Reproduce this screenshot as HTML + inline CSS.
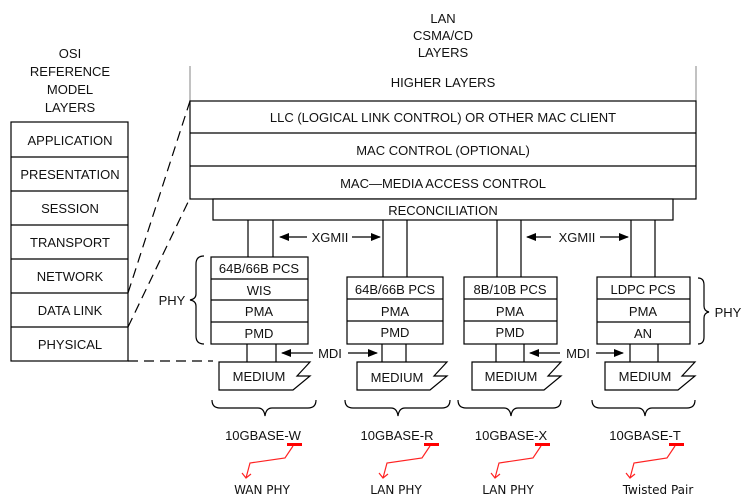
<!DOCTYPE html>
<html><head><meta charset="utf-8"><style>
html,body{margin:0;padding:0;background:#fff;}
svg{display:block;}
text{font-family:"Liberation Sans",Arial,sans-serif;font-size:13px;fill:#111;}
.b{fill:#fff;stroke:#000;stroke-width:1.2;}
.l{stroke:#000;stroke-width:1.2;fill:none;}
.d{stroke:#000;stroke-width:1.2;fill:none;stroke-dasharray:10,6;}
.r{stroke:#f22;stroke-width:1.2;fill:none;}
.v{font-family:"DejaVu Sans",sans-serif;font-size:12px;}
</style></head><body>
<svg width="748" height="500" viewBox="0 0 748 500" xmlns="http://www.w3.org/2000/svg">
<defs><marker id="a" markerWidth="10" markerHeight="8" refX="9" refY="4" orient="auto" markerUnits="userSpaceOnUse"><path d="M0,0 L10,4 L0,8 z" fill="#000"/></marker></defs>
<g text-anchor="middle">
<text x="443" y="23">LAN</text><text x="443" y="40">CSMA/CD</text><text x="443" y="57">LAYERS</text>
<text x="70" y="58">OSI</text><text x="70" y="76">REFERENCE</text><text x="70" y="94">MODEL</text><text x="70" y="112">LAYERS</text>
</g>
<!-- OSI -->
<rect class="b" x="11" y="122" width="117" height="239"/>
<g class="l"><line x1="11" y1="157" x2="128" y2="157"/><line x1="11" y1="191" x2="128" y2="191"/><line x1="11" y1="225" x2="128" y2="225"/><line x1="11" y1="259" x2="128" y2="259"/><line x1="11" y1="293" x2="128" y2="293"/><line x1="11" y1="327" x2="128" y2="327"/></g>
<g text-anchor="middle">
<text x="70" y="145">APPLICATION</text><text x="70" y="179">PRESENTATION</text><text x="70" y="213">SESSION</text><text x="70" y="247">TRANSPORT</text><text x="70" y="281">NETWORK</text><text x="70" y="315">DATA LINK</text><text x="70" y="349">PHYSICAL</text>
</g>
<line class="d" x1="128" y1="293" x2="190" y2="101"/>
<line class="d" x1="128" y1="327" x2="190" y2="198"/>
<line class="d" x1="128" y1="361" x2="213" y2="361"/>
<!-- LAN stack -->
<line x1="190" y1="66" x2="190" y2="101" stroke="#999" stroke-width="1.2"/>
<line x1="696" y1="66" x2="696" y2="101" stroke="#999" stroke-width="1.2"/>
<text x="443" y="87" text-anchor="middle">HIGHER LAYERS</text>
<rect class="b" x="190" y="101" width="506" height="98"/>
<line class="l" x1="190" y1="133" x2="696" y2="133"/><line class="l" x1="190" y1="166" x2="696" y2="166"/>
<g text-anchor="middle"><text x="443" y="122">LLC (LOGICAL LINK CONTROL) OR OTHER MAC CLIENT</text>
<text x="443" y="155">MAC CONTROL (OPTIONAL)</text><text x="443" y="188">MAC—MEDIA ACCESS CONTROL</text></g>
<rect class="b" x="213" y="199" width="460" height="21"/>
<text x="443" y="215" text-anchor="middle">RECONCILIATION</text>
<!-- verticals -->
<g class="l">
<line x1="248" y1="220" x2="248" y2="257"/><line x1="273" y1="220" x2="273" y2="257"/>
<line x1="383" y1="220" x2="383" y2="277"/><line x1="407" y1="220" x2="407" y2="277"/>
<line x1="497" y1="220" x2="497" y2="277"/><line x1="521" y1="220" x2="521" y2="277"/>
<line x1="631" y1="220" x2="631" y2="277"/><line x1="655" y1="220" x2="655" y2="277"/>
<line x1="247" y1="344" x2="247" y2="362"/><line x1="276" y1="344" x2="276" y2="362"/>
<line x1="382" y1="344" x2="382" y2="362"/><line x1="406" y1="344" x2="406" y2="362"/>
<line x1="496" y1="344" x2="496" y2="362"/><line x1="524" y1="344" x2="524" y2="362"/>
<line x1="630" y1="344" x2="630" y2="362"/><line x1="658" y1="344" x2="658" y2="362"/>
</g>
<!-- XGMII / MDI -->
<g class="l">
<line x1="307" y1="237" x2="280" y2="237" marker-end="url(#a)"/><line x1="352" y1="237" x2="380" y2="237" marker-end="url(#a)"/>
<line x1="551" y1="237" x2="527" y2="237" marker-end="url(#a)"/><line x1="600" y1="237" x2="628" y2="237" marker-end="url(#a)"/>
<line x1="313" y1="353" x2="282" y2="353" marker-end="url(#a)"/><line x1="348" y1="353" x2="377" y2="353" marker-end="url(#a)"/>
<line x1="560" y1="353" x2="530" y2="353" marker-end="url(#a)"/><line x1="596" y1="353" x2="623" y2="353" marker-end="url(#a)"/>
</g>
<g text-anchor="middle"><text x="330" y="242">XGMII</text><text x="577" y="242">XGMII</text><text x="330" y="358">MDI</text><text x="578" y="358">MDI</text></g>
<!-- col1 -->
<rect class="b" x="211" y="257" width="97" height="87"/>
<g class="l"><line x1="211" y1="279" x2="308" y2="279"/><line x1="211" y1="300" x2="308" y2="300"/><line x1="211" y1="322" x2="308" y2="322"/></g>
<g text-anchor="middle"><text x="259" y="273">64B/66B PCS</text><text x="259" y="295">WIS</text><text x="259" y="316">PMA</text><text x="259" y="338">PMD</text></g>
<!-- col2 -->
<rect class="b" x="347" y="277" width="96" height="67"/>
<g class="l"><line x1="347" y1="299" x2="443" y2="299"/><line x1="347" y1="321" x2="443" y2="321"/></g>
<g text-anchor="middle"><text x="395" y="294">64B/66B PCS</text><text x="395" y="316">PMA</text><text x="395" y="337">PMD</text></g>
<!-- col3 -->
<rect class="b" x="464" y="277" width="93" height="67"/>
<g class="l"><line x1="464" y1="299" x2="557" y2="299"/><line x1="464" y1="321" x2="557" y2="321"/></g>
<g text-anchor="middle"><text x="510" y="294">8B/10B PCS</text><text x="510" y="316">PMA</text><text x="510" y="337">PMD</text></g>
<!-- col4 -->
<rect class="b" x="597" y="277" width="93" height="67"/>
<g class="l"><line x1="597" y1="299" x2="690" y2="299"/><line x1="597" y1="322" x2="690" y2="322"/></g>
<g text-anchor="middle"><text x="643" y="294">LDPC PCS</text><text x="643" y="316">PMA</text><text x="643" y="338">AN</text></g>
<!-- PHY braces -->
<path class="l" d="M204,256 Q196,256 196,264 L196,294 Q196,299 190,300 Q196,301 196,306 L196,336 Q196,344 204,344"/>
<text x="172" y="305" text-anchor="middle">PHY</text>
<path class="l" d="M698,278 Q704,278 704,285 L704,306 Q704,311 709,312 Q704,313 704,318 L704,337 Q704,344 698,344"/>
<text x="728" y="317" text-anchor="middle">PHY</text>
<!-- mediums -->
<g class="l">
<path d="M219,362 L310,362 L297,376 L310,376 L293,390 L219,390 Z" fill="#fff"/>
<path d="M357,362 L447,362 L434,376 L447,376 L430,390 L357,390 Z" fill="#fff"/>
<path d="M472,362 L561,362 L548,376 L561,376 L544,390 L472,390 Z" fill="#fff"/>
<path d="M605,362 L695,362 L682,376 L695,376 L678,390 L605,390 Z" fill="#fff"/>
</g>
<g text-anchor="middle"><text x="259" y="381">MEDIUM</text><text x="397" y="382">MEDIUM</text><text x="511" y="381">MEDIUM</text><text x="645" y="381">MEDIUM</text></g>
<!-- bottom braces -->
<g class="l">
<path d="M212,400 Q212,408 220,408 L258,408 Q264,408 265,416 Q266,408 272,408 L308,408 Q316,408 316,400"/>
<path d="M345,400 Q345,408 353,408 L391,408 Q397,408 398,416 Q399,408 405,408 L442,408 Q450,408 450,400"/>
<path d="M458,400 Q458,408 466,408 L504,408 Q510,408 511,416 Q512,408 518,408 L553,408 Q561,408 561,400"/>
<path d="M592,400 Q592,408 600,408 L638,408 Q644,408 645,416 Q646,408 652,408 L687,408 Q695,408 695,400"/>
</g>
<g text-anchor="middle"><text x="263" y="440">10GBASE-W</text><text x="397" y="440">10GBASE-R</text><text x="511" y="440">10GBASE-X</text><text x="645" y="440">10GBASE-T</text></g>
<!-- red -->
<g fill="#f00"><rect x="287" y="443" width="15" height="3"/><rect x="424" y="443" width="15" height="3"/><rect x="535" y="443" width="15" height="3"/><rect x="669" y="443" width="15" height="3"/></g>
<g class="r">
<path d="M293,446 L285,458 L250,463 L246,478 M242,473 L246,478 L251,474"/>
<path d="M430,446 L422,458 L387,463 L383,478 M379,473 L383,478 L388,474"/>
<path d="M541,446 L533,458 L499,463 L495,478 M491,473 L495,478 L500,474"/>
<path d="M675,446 L667,458 L634,463 L630,478 M626,473 L630,478 L635,474"/>
</g>
<g text-anchor="middle" class="v"><text class="v" x="262" y="494">WAN PHY</text><text class="v" x="396" y="494">LAN PHY</text><text class="v" x="508" y="494">LAN PHY</text><text class="v" x="658" y="494">Twisted Pair</text></g>
</svg>
</body></html>
